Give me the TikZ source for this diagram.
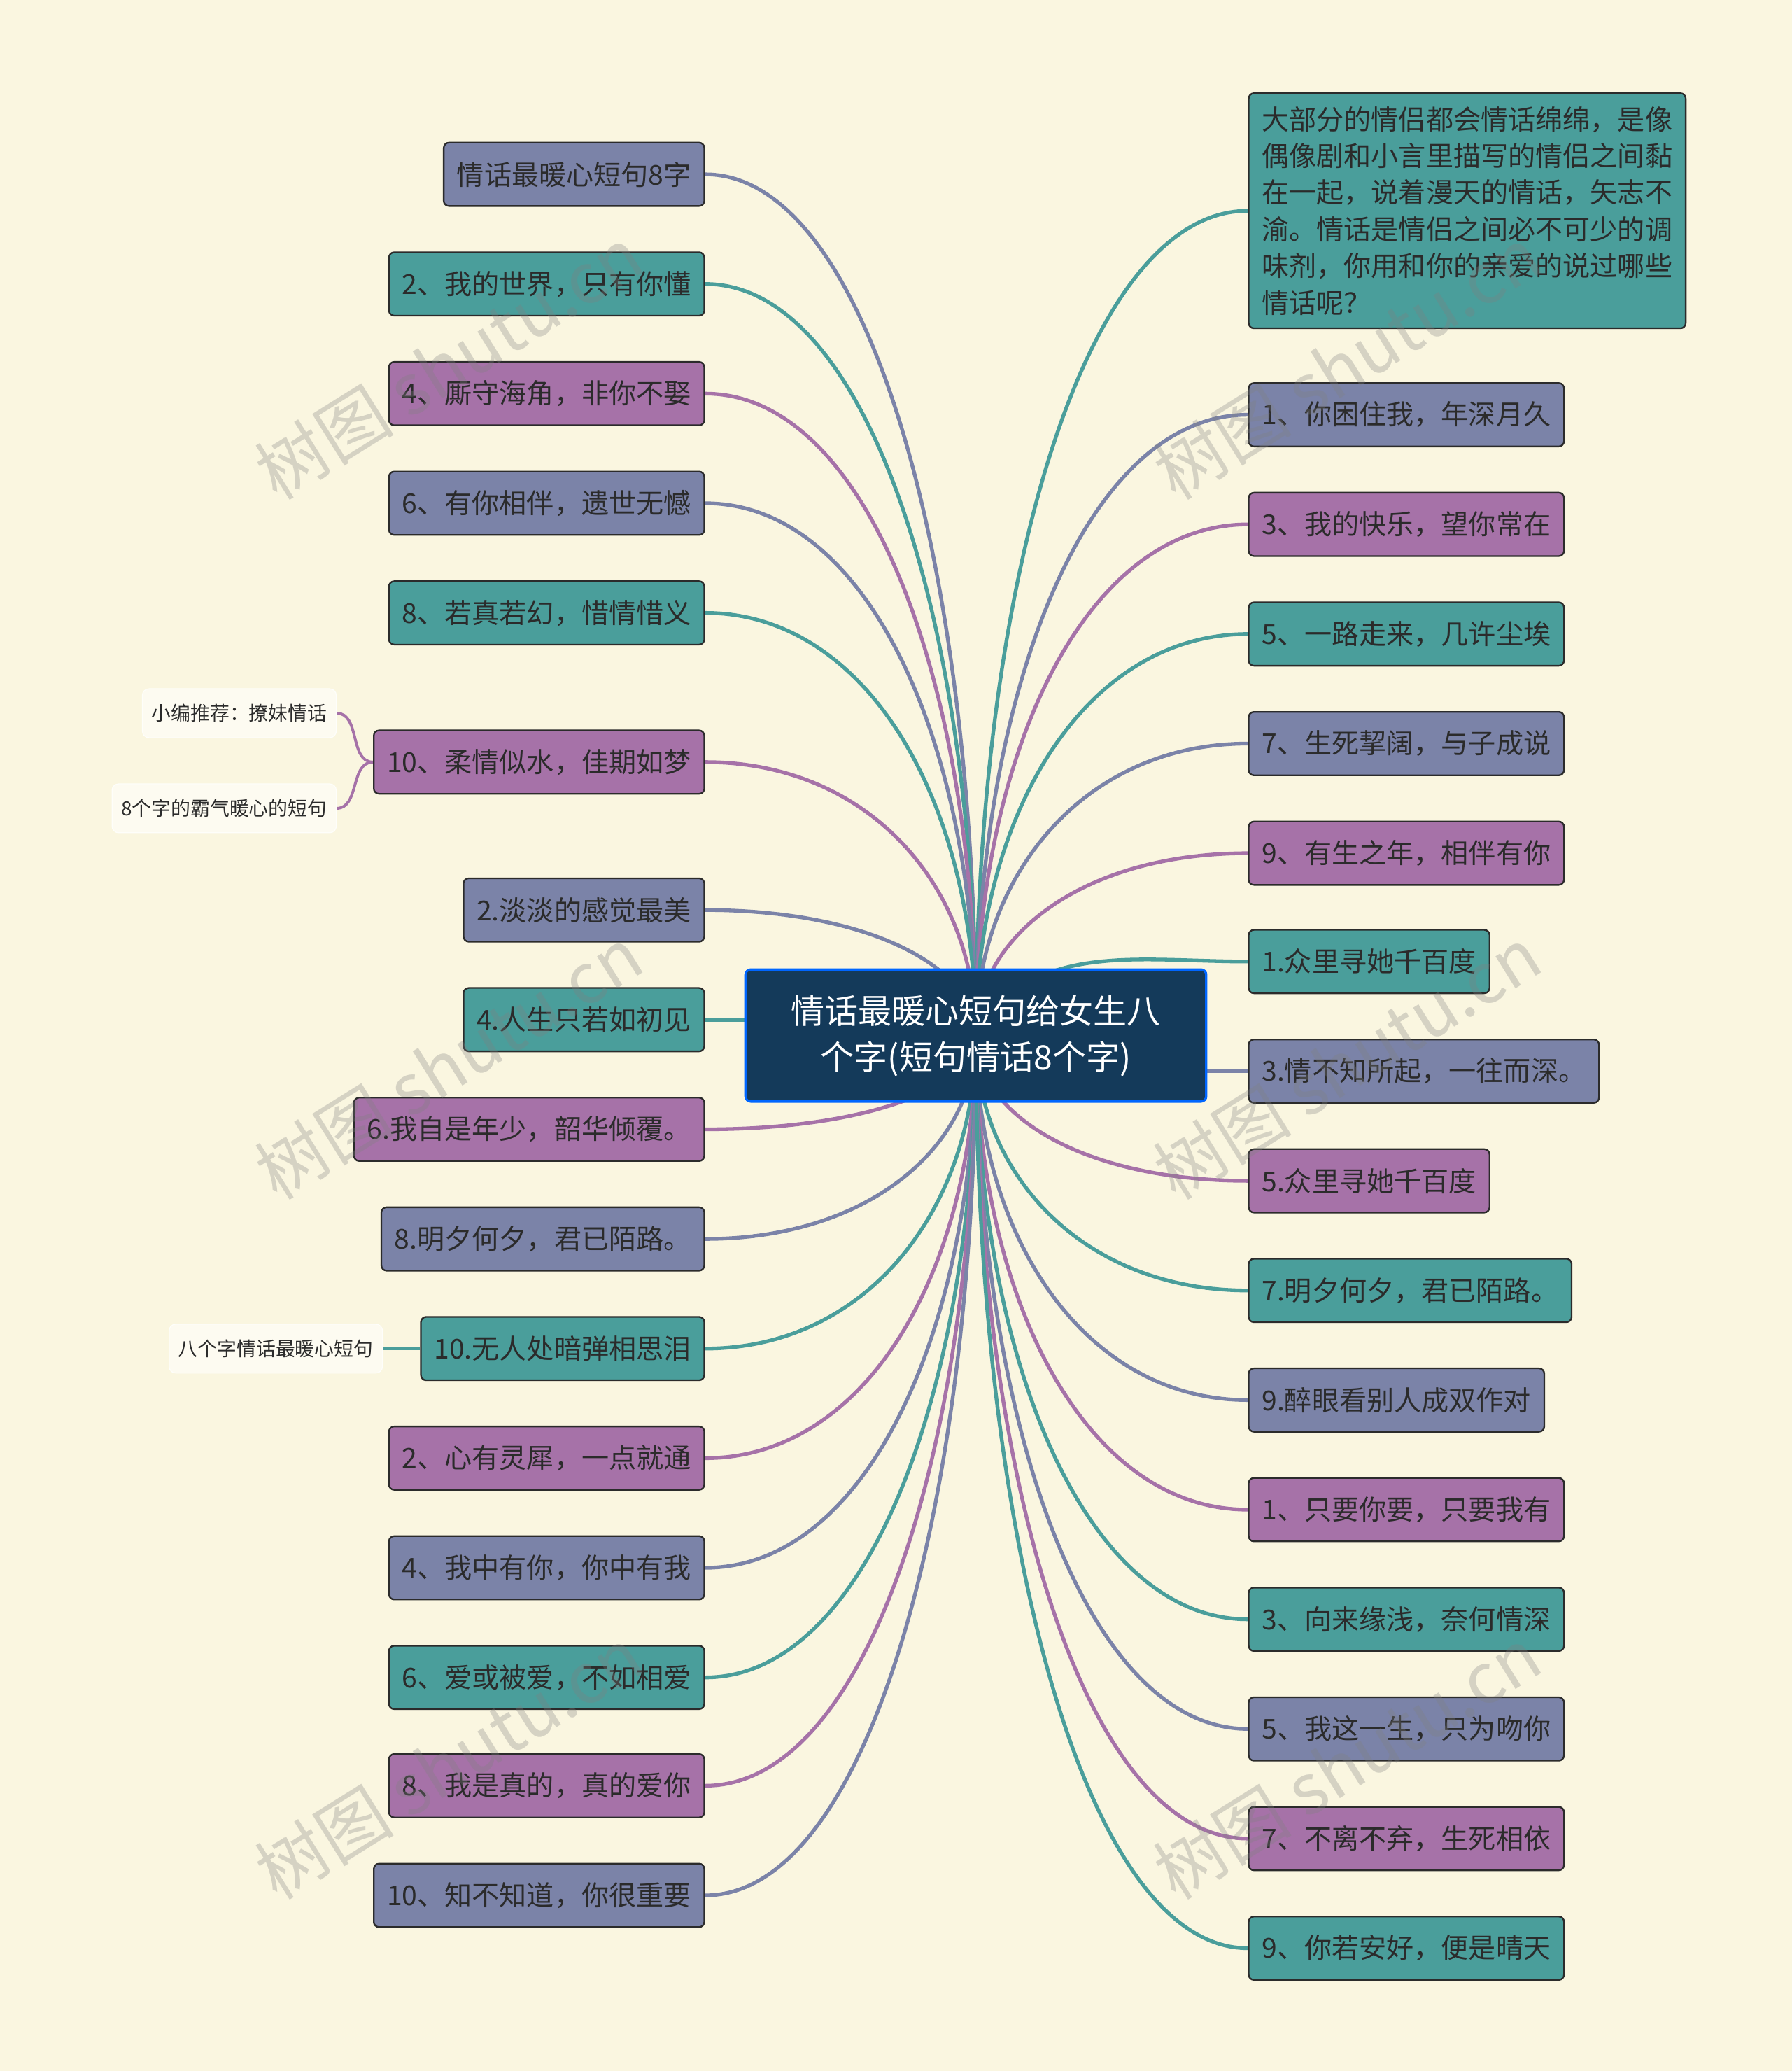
\documentclass[tikz,border=0pt]{standalone}
\usepackage{fontspec}
\setmainfont{Noto Sans CJK SC}
\usetikzlibrary{positioning, backgrounds, calc}
\pgfdeclarelayer{back}
\pgfdeclarelayer{front}
\pgfsetlayers{back,background,main,front}
\definecolor{bgcol}{HTML}{FAF6E0}
\definecolor{cS}{HTML}{7B83A8}
\definecolor{cT}{HTML}{4A9E9B}
\definecolor{cP}{HTML}{A672A8}
\definecolor{center}{HTML}{143A5A}
\definecolor{ink}{HTML}{2B2B2B}
\tikzset{
  leaf/.style={draw=ink, line width=0.7pt, rounded corners=0.08cm, text=ink, minimum height=0.96cm,
    inner xsep=0.2cm, font=\fontsize{11.8}{13}\selectfont},
  side/.style={draw=white!85!bgcol, fill=white!55!bgcol, rounded corners=0.1cm, text=ink,
    minimum height=0.74cm, inner xsep=0.14cm, font=\fontsize{8.4}{10}\selectfont},
  link/.style={line width=1.6pt},
  watermark/.style={text=gray, text opacity=0.3, rotate=32, font=\fontsize{30}{32}\selectfont}
}
\newcommand\branch[2]{% from center to anchor #1, colour #2
  \draw[link, #2] (c.center) .. controls ($(c.center)!0.55!(c.center |- #1)$)
    and ($(#1)!0.6!(c.center |- #1)$) .. (#1);}
\begin{document}
\begin{tikzpicture}[x=0.02cm, y=-0.02cm]
\begin{pgfonlayer}{back}
  \fill[bgcol] (0,0) rectangle (1357,1568);
\end{pgfonlayer}
% watermarks
\begin{pgfonlayer}{front}
\foreach \wx/\wy in {340/275, 340/805, 340/1335, 1020/275, 1020/805, 1020/1335}
  \node[watermark] at (\wx,\wy) {树图 shutu.cn};
\end{pgfonlayer}
% center
\node (c) at (739,784) [draw=blue!60!cyan, line width=1pt, fill=center, rounded corners=0.08cm,
  minimum width=6.98cm, minimum height=2cm, align=center, text=white,
  font=\fontsize{14.5}{20}\selectfont] {情话最暖心短句给女生八\\个字(短句情话8个字)};
% left branch
\foreach \i/\y/\col/\txt in {1/132/S/情话最暖心短句8字, 2/215/T/2、我的世界，只有你懂,
  3/298/P/4、厮守海角，非你不娶, 4/381/S/6、有你相伴，遗世无憾, 5/464/T/8、若真若幻，惜情惜义,
  6/577/P/10、柔情似水，佳期如梦, 7/689/S/2.淡淡的感觉最美, 8/772/T/4.人生只若如初见,
  9/855/P/6.我自是年少，韶华倾覆。, 10/938/S/8.明夕何夕，君已陌路。, 11/1021/T/10.无人处暗弹相思泪,
  12/1104/P/2、心有灵犀，一点就通, 13/1187/S/4、我中有你，你中有我, 14/1270/T/6、爱或被爱，不如相爱,
  15/1352/P/8、我是真的，真的爱你, 16/1435/S/10、知不知道，你很重要}{
  \node (L\i) at (534,\y) [leaf, anchor=east, fill=c\col] {\txt};
  \begin{pgfonlayer}{background}
    \ifnum\i=8
      \draw[link, c\col] (L\i.east) -- (c.west |- L\i.east);
    \else
      \branch{L\i.east}{c\col}
    \fi
  \end{pgfonlayer}
}
% right branch
\node (R0) at (945,70) [leaf, anchor=north west, fill=cT, align=left, inner ysep=0.2cm,
  font=\fontsize{11.8}{15.8}\selectfont] {大部分的情侣都会情话绵绵，是像\\偶像剧和小言里描写的情侣之间黏\\在一起，说着漫天的情话，矢志不\\渝。情话是情侣之间必不可少的调\\味剂，你用和你的亲爱的说过哪些\\情话呢？};
\begin{pgfonlayer}{background}
  \branch{R0.west}{cT}
\end{pgfonlayer}
\foreach \i/\y/\col/\txt in {1/314/S/1、你困住我，年深月久, 2/397/P/3、我的快乐，望你常在,
  3/480/T/5、一路走来，几许尘埃, 4/563/S/7、生死挈阔，与子成说, 5/646/P/9、有生之年，相伴有你,
  6/728/T/1.众里寻她千百度, 7/811/S/3.情不知所起，一往而深。, 8/894/P/5.众里寻她千百度,
  9/977/T/7.明夕何夕，君已陌路。, 10/1060/S/9.醉眼看别人成双作对, 11/1143/P/1、只要你要，只要我有,
  12/1226/T/3、向来缘浅，奈何情深, 13/1309/S/5、我这一生，只为吻你, 14/1392/P/7、不离不弃，生死相依,
  15/1475/T/9、你若安好，便是晴天}{
  \node (R\i) at (945,\y) [leaf, anchor=west, fill=c\col] {\txt};
  \begin{pgfonlayer}{background}
    \ifnum\i=6
      \draw[link, c\col] (R\i.west) to[out=180, in=60] (c.center);
    \else\ifnum\i=7
      \draw[link, c\col] (R\i.west) -- (c.east |- R\i.west);
    \else
      \branch{R\i.west}{c\col}
    \fi\fi
  \end{pgfonlayer}
}
% side notes
\node (s1) at (255,540) [side, anchor=east] {小编推荐：撩妹情话};
\node (s2) at (255,612) [side, anchor=east] {8个字的霸气暖心的短句};
\node (s3) at (290,1021) [side, anchor=east] {八个字情话最暖心短句};
\begin{pgfonlayer}{background}
  \draw[link, cP, line width=1.2pt] (L6.west) to[out=180, in=0] (s1.east);
  \draw[link, cP, line width=1.2pt] (L6.west) to[out=180, in=0] (s2.east);
  \draw[link, cT, line width=1.2pt] (L11.west) -- (s3.east);
\end{pgfonlayer}
\end{tikzpicture}
\end{document}
